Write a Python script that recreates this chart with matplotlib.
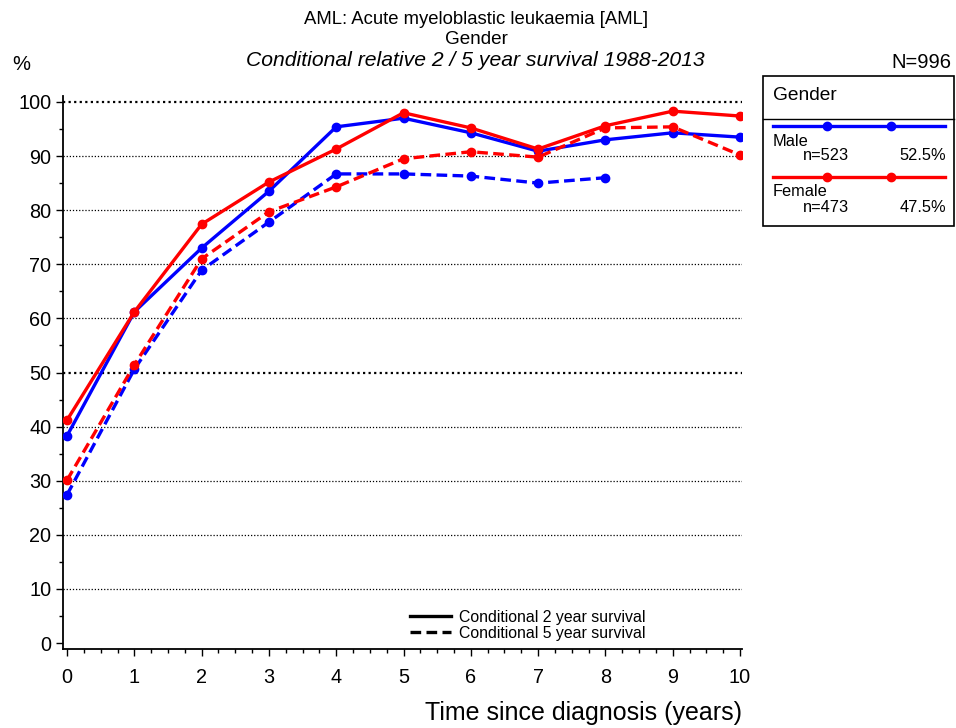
import matplotlib
matplotlib.use("Agg")
import matplotlib.pyplot as plt
from matplotlib.lines import Line2D
from matplotlib.patches import Rectangle
from matplotlib.ticker import MultipleLocator

plt.rcParams["font.family"] = ["Liberation Sans", "DejaVu Sans"]

years = [0, 1, 2, 3, 4, 5, 6, 7, 8, 9, 10]
male_2y = [38.3, 61.2, 73.0, 83.5, 95.4, 97.0, 94.3, 90.9, 93.0, 94.3, 93.5]
female_2y = [41.2, 61.2, 77.4, 85.2, 91.3, 98.0, 95.2, 91.3, 95.6, 98.3, 97.4]
male_5y = [27.4, 50.6, 68.9, 77.8, 86.7, 86.7, 86.3, 85.0, 86.0]
female_5y = [30.1, 51.4, 71.0, 79.7, 84.3, 89.5, 90.8, 89.8, 95.2, 95.4, 90.2]

groups = ["Male", "Female"]
group_n = [523, 473]
group_pct = ["52.5%", "47.5%"]
colors = ["#0000ff", "#ff0000"]

W, H = 956, 728
fig = plt.figure(figsize=(W / 100, H / 100), dpi=100)
ax = fig.add_axes([63 / W, 1 - 649 / H, (742 - 63) / W, (649 - 96) / H])

for x2, y2, x5, y5, c in [
    (years, male_2y, years[:len(male_5y)], male_5y, colors[0]),
    (years, female_2y, years, female_5y, colors[1]),
]:
    ax.plot(x2, y2, color=c, lw=2.4, marker="o", ms=6, zorder=3)
    ax.plot(x5, y5, color=c, lw=2.4, ls=(0, (3.2, 1.6)), marker="o", ms=6, zorder=3)

ax.set_xlim(-0.06, 10.03)
ax.set_ylim(-1.1, 101.1)
ax.set_xticks(range(11))
ax.set_yticks(range(0, 101, 10))
ax.xaxis.set_minor_locator(MultipleLocator(0.25))
ax.yaxis.set_minor_locator(MultipleLocator(5))
ax.tick_params(axis="both", which="major", labelsize=14.3, length=5, width=1, color="black")
ax.tick_params(axis="both", which="minor", length=3, width=1)
ax.tick_params(axis="x", pad=9)

for v in range(10, 101, 10):
    heavy = v in (50, 100)
    ax.axhline(v, color="black", lw=1.6 if heavy else 0.9, ls=(0, (1, 1.5)), zorder=1)

for s in ["top", "right"]:
    ax.spines[s].set_visible(False)
for s in ["left", "bottom"]:
    ax.spines[s].set_linewidth(1.3)

ax.set_xlabel("Time since diagnosis (years)", fontsize=18, loc="right", labelpad=10)

# line-style legend inside axes
style_handles = [Line2D([], [], color="black", lw=2.4),
                 Line2D([], [], color="black", lw=2.4, ls=(0, (3.2, 1.6)))]
ax.legend(style_handles, ["Conditional 2 year survival", "Conditional 5 year survival"],
          loc="lower left", bbox_to_anchor=(0.495, -0.005), frameon=False, fontsize=11.4,
          handlelength=2.6, handletextpad=0.5, labelspacing=0.05, borderpad=0.2)

# titles
fig.text(476 / W, 1 - 19 / H, "AML: Acute myeloblastic leukaemia [AML]", ha="center", va="center", fontsize=13.3)
fig.text(476 / W, 1 - 40 / H, "Gender", ha="center", va="center", fontsize=13.6)
fig.text(475 / W, 1 - 61 / H, "Conditional relative 2 / 5 year survival 1988-2013",
         ha="center", va="center", fontsize=15.2, style="italic")
fig.text(12 / W, 1 - 65 / H, "%", ha="left", va="center", fontsize=14.5)
fig.text(951 / W, 1 - 62 / H, "N=996", ha="right", va="center", fontsize=14.5)

# group legend box
fig.patches.append(Rectangle((763 / W, 1 - 226 / H), (954 - 763) / W, (226 - 76) / H,
                             transform=fig.transFigure, fill=False, ec="black", lw=1.2))
fig.add_artist(Line2D([763 / W, 954 / W], [1 - 119 / H] * 2, transform=fig.transFigure, color="black", lw=1))
fig.text(773 / W, 1 - 96 / H, "Gender", ha="left", va="center", fontsize=13.8)
for i, (g, n, p, c) in enumerate(zip(groups, group_n, group_pct, colors)):
    y0 = 126 + i * 51
    fig.add_artist(Line2D([773 / W, 945 / W], [1 - y0 / H] * 2, transform=fig.transFigure, color=c, lw=2.4))
    fig.add_artist(Line2D([827 / W, 891 / W], [1 - y0 / H] * 2, transform=fig.transFigure,
                          color=c, lw=0, marker="o", ms=6))
    fig.text(773 / W, 1 - (y0 + 15) / H, g, ha="left", va="center", fontsize=11.8)
    fig.text(803 / W, 1 - (y0 + 30) / H, f"n={n}", ha="left", va="center", fontsize=11.8)
    fig.text(946 / W, 1 - (y0 + 30) / H, p, ha="right", va="center", fontsize=11.8)

fig.savefig("out.png", dpi=100)
